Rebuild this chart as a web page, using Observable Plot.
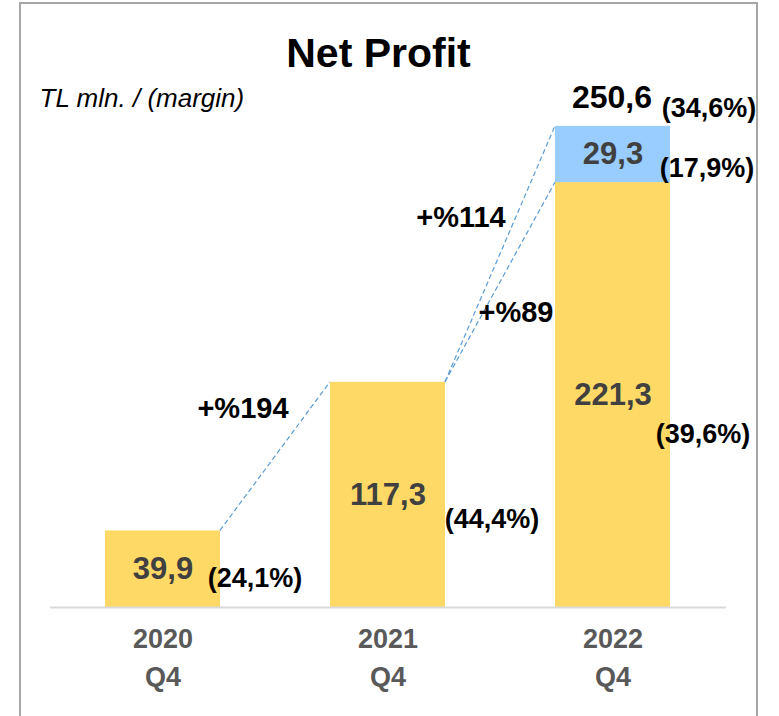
<!DOCTYPE html>
<html>
<head>
<meta charset="utf-8">
<script src="https://cdn.jsdelivr.net/npm/d3@7"></script>
<script src="https://cdn.jsdelivr.net/npm/@observablehq/plot@0.6"></script>
<style>
  html, body { margin: 0; padding: 0; background: #ffffff; }
  #wrap { position: relative; width: 779px; height: 716px; overflow: hidden; }
  #wrap svg { position: absolute; left: 0; top: 0; }
  #border { position: absolute; left: 19px; top: 2px; width: 735px; height: 760px;
            border: 2px solid #a6a6a6; pointer-events: none; }
</style>
</head>
<body>
<div id="wrap"></div>
<script>
// ---------- data ----------
const periods = ["2020", "2021", "2022"];
const quarters = ["Q4", "Q4", "Q4"];
const coreProfit = [39.9, 117.3, 221.3];
const coreMargin = ["(24,1%)", "(44,4%)", "(39,6%)"];
const extraProfit = [0, 0, 29.3];
const extraMargin = ["", "", "(17,9%)"];
const totalProfit = [39.9, 117.3, 250.6];
const totalMargin = ["", "", "(34,6%)"];
const growthLabels = ["+%194", "+%114", "+%89"];
const growthFrom = ["2020", "2021", "2021"];
const growthTo = ["2021", "2022", "2022"];
const growthFromValue = [39.9, 117.3, 117.3];
const growthToValue = [117.3, 250.6, 221.3];

// ---------- layout nudges (pixels) ----------
const coreNudge = [[92, 9], [104, 24], [90, 39]];
const extraNudge = [94, 14];
const totalValueNudge = [-1, -29];
const totalMarginNudge = [96, -18];
const growthNudge = [[-32, -49], [-39, -37], [16, 30]];

const FONT = "'Liberation Sans', Arial, sans-serif";
const fmt = v => v.toFixed(1).replace(".", ",");

// derived table
const segs = [];
periods.forEach((p, i) => {
  segs.push({period: p, part: "core", y1: 0, y2: coreProfit[i], value: coreProfit[i], margin: coreMargin[i], i});
  if (extraProfit[i] > 0) {
    segs.push({period: p, part: "extra", y1: coreProfit[i], y2: coreProfit[i] + extraProfit[i], value: extraProfit[i], margin: extraMargin[i], i});
  }
});

const marginMarks = segs.map(s => {
  const [dx, dy] = s.part === "core" ? coreNudge[s.i] : extraNudge;
  return Plot.text([s], {
    x: "period", y: d => (d.y1 + d.y2) / 2, text: "margin",
    dx, dy, fontSize: 27, fontWeight: "bold", fill: "#000000"
  });
});

const totals = periods.map((p, i) => ({period: p, total: totalProfit[i], margin: totalMargin[i], show: extraProfit[i] > 0}))
  .filter(d => d.show);

function connectors(index, scales) {
  const x = scales.x, y = scales.y;
  const bw = typeof x.bandwidth === "function" ? x.bandwidth() : x.bandwidth;
  const g = d3.create("svg:g");
  growthLabels.forEach((label, k) => {
    const x1 = x(growthFrom[k]) + bw, y1 = y(growthFromValue[k]);
    const x2 = x(growthTo[k]), y2 = y(growthToValue[k]);
    g.append("line")
      .attr("x1", x1).attr("y1", y1).attr("x2", x2).attr("y2", y2)
      .attr("stroke", "#5B9BD5").attr("stroke-width", 1.2)
      .attr("stroke-dasharray", "5,3");
    g.append("text")
      .attr("x", (x1 + x2) / 2 + growthNudge[k][0])
      .attr("y", (y1 + y2) / 2 + growthNudge[k][1])
      .attr("dy", "0.36em")
      .attr("text-anchor", "middle")
      .attr("font-family", FONT)
      .attr("font-size", 29)
      .attr("font-weight", "bold")
      .attr("fill", "#000000")
      .text(label);
  });
  return g.node();
}

const chart = Plot.plot({
  width: 779,
  height: 716,
  marginTop: 31,
  marginBottom: 109,
  marginLeft: 50,
  marginRight: 53,
  style: {background: "transparent", fontFamily: FONT},
  x: {domain: periods, paddingInner: 0.487, paddingOuter: 0.24, axis: null},
  y: {domain: [0, 300], axis: null},
  color: {domain: ["core", "extra"], range: ["#FFD966", "#99CCFF"]},
  marks: [
    Plot.barY(segs, {x: "period", y1: "y1", y2: "y2", fill: "part"}),
    Plot.ruleY([0], {stroke: "#d9d9d9", strokeWidth: 2}),
    connectors,
    Plot.text(segs, {
      x: "period", y: d => (d.y1 + d.y2) / 2, text: d => fmt(d.value),
      fontSize: 31, fontWeight: "bold", fill: "#404040"
    }),
    ...marginMarks,
    Plot.text(totals, {
      x: "period", y: "total", text: d => fmt(d.total),
      dx: totalValueNudge[0], dy: totalValueNudge[1],
      fontSize: 32, fontWeight: "bold", fill: "#000000"
    }),
    Plot.text(totals, {
      x: "period", y: "total", text: "margin",
      dx: totalMarginNudge[0], dy: totalMarginNudge[1],
      fontSize: 27, fontWeight: "bold", fill: "#000000"
    }),
    Plot.text(periods, {
      x: d => d, frameAnchor: "bottom", dy: 40, text: d => d,
      fontSize: 27, fontWeight: "bold", fill: "#595959"
    }),
    Plot.text(periods.map((p, i) => ({p, q: quarters[i]})), {
      x: "p", frameAnchor: "bottom", dy: 78, text: "q",
      fontSize: 27, fontWeight: "bold", fill: "#595959"
    }),
    Plot.text(["Net Profit"], {
      frameAnchor: "top", dx: -10, dy: 6, text: d => d,
      fontSize: 41, fontWeight: "bold", fill: "#000000"
    }),
    Plot.text(["TL mln. / (margin)"], {
      frameAnchor: "top-left", textAnchor: "start", dx: -11, dy: 57, text: d => d,
      fontSize: 26, fontStyle: "italic", fill: "#000000"
    })
  ]
});

const wrap = document.getElementById("wrap");
wrap.appendChild(chart);
const border = document.createElement("div");
border.id = "border";
wrap.appendChild(border);
</script>
</body>
</html>
